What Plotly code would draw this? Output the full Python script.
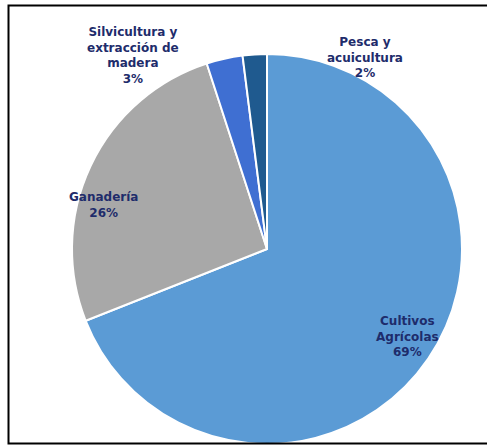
import plotly.graph_objects as go

# Composición del sector agropecuario por actividad
categorias = ["Cultivos Agrícolas", "Ganadería", "Silvicultura y extracción de madera", "Pesca y acuicultura"]
etiquetas = ["Cultivos<br>Agrícolas", "Ganadería", "Silvicultura y<br>extracción de<br>madera", "Pesca y<br>acuicultura"]
porcentajes = [69, 26, 3, 2]
colores = ["#5B9BD5", "#A8A8A8", "#3F6FD2", "#1F5A8F"]

W, H = 487, 445
cx, cy, r = 267, 249, 195

fig = go.Figure(
    go.Pie(
        labels=categorias,
        values=porcentajes,
        sort=False,
        direction="clockwise",
        rotation=0,
        textinfo="none",
        hoverinfo="label+percent",
        marker=dict(colors=colores, line=dict(color="white", width=2)),
        domain=dict(
            x=[(cx - r) / W, (cx + r) / W],
            y=[(H - cy - r) / H, (H - cy + r) / H],
        ),
    )
)

# label anchor points (pixel coordinates)
pos = [(407, 336), (103, 205), (133, 56), (365, 57)]
fuente = dict(family="DejaVu Sans", size=12, color="#1E2C6B", weight="bold")
for et, v, (px, py) in zip(etiquetas, porcentajes, pos):
    fig.add_annotation(
        x=px / W, y=1 - py / H, xref="paper", yref="paper",
        text=f"{et}<br>{v}%", showarrow=False, font=fuente,
        xanchor="center", yanchor="middle", align="center",
    )

# frame around the chart
fig.add_shape(
    type="rect", xref="paper", yref="paper",
    x0=8.5 / W, x1=1.02, y0=1 - 443.5 / H, y1=1 - 5.5 / H,
    line=dict(color="black", width=2), fillcolor="rgba(0,0,0,0)",
)

fig.update_layout(
    width=W, height=H,
    margin=dict(l=0, r=0, t=0, b=0),
    paper_bgcolor="white",
    plot_bgcolor="white",
    showlegend=False,
)

fig.write_html("out.html")
